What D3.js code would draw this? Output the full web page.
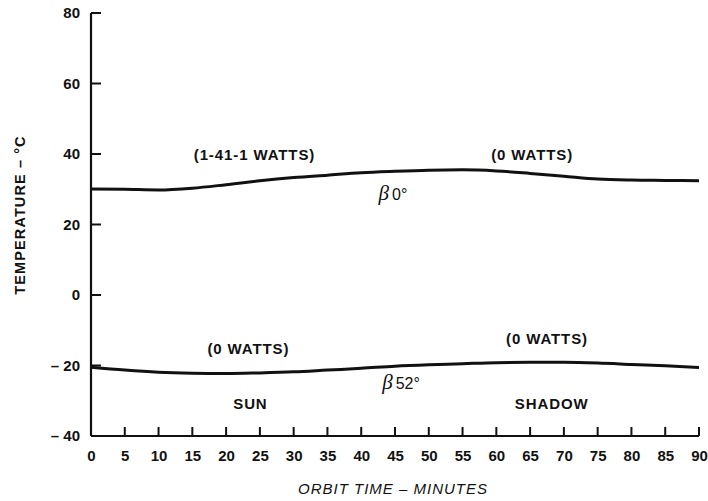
<!DOCTYPE html>
<html><head><meta charset="utf-8">
<script src="https://cdn.jsdelivr.net/npm/d3@7"></script>
<style>
body{margin:0;background:#fff;}
text{font-family:"Liberation Sans",Arial,sans-serif;fill:#111;}
</style></head>
<body><svg id="c" width="708" height="501"></svg>
<script>
const times = [0,5,10,15,20,25,30,35,40,45,50,55,60,65,70,75,80,85,90];
const beta0 = [30.1,30.0,29.8,30.3,31.3,32.4,33.3,34.0,34.7,35.1,35.4,35.5,35.2,34.5,33.7,32.9,32.6,32.5,32.4];
const beta52 = [-20.5,-21.3,-21.9,-22.2,-22.3,-22.1,-21.8,-21.3,-20.8,-20.2,-19.8,-19.5,-19.2,-19.1,-19.1,-19.3,-19.7,-20.1,-20.6];
const xTicks = [0,5,10,15,20,25,30,35,40,45,50,55,60,65,70,75,80,85,90];
const yTicks = [80,60,40,20,0,-20,-40];
const annotations = [
  {t:"(1-41-1 WATTS)", x:24.2, y:38.2},
  {t:"(0 WATTS)", x:65.3, y:38.2},
  {t:"(0 WATTS)", x:23.3, y:-16.6},
  {t:"(0 WATTS)", x:67.5, y:-14.0},
  {t:"SUN", x:23.6, y:-32.4},
  {t:"SHADOW", x:68.2, y:-32.4}
];
const betaLabels = [
  {b:"\u03B2", v:"0\u00B0", x:44.7, y:27.0},
  {b:"\u03B2", v:"52\u00B0", x:45.9, y:-26.8}
];

const svg = d3.select("#c");
const x = d3.scaleLinear().domain([0,90]).range([91,699]);
const y = d3.scaleLinear().domain([-40,80]).range([436,13]);

const xAxis = d3.axisBottom(x).tickValues(xTicks).tickSize(0).tickPadding(14).tickFormat(d3.format("d"));
const gx = svg.append("g").attr("transform",`translate(0,${y(-40)})`).call(xAxis);
const yAxis = d3.axisLeft(y).tickValues(yTicks).tickSize(0).tickPadding(11)
  .tickFormat(d => d<0 ? "\u2013 " + Math.abs(d) : d);
const gy = svg.append("g").attr("transform",`translate(${x(0)},0)`).call(yAxis);
[gx,gy].forEach(g=>{
  g.select(".domain").attr("stroke","#111").attr("stroke-width",2.2);
  g.selectAll(".tick text").attr("font-size",15).attr("font-weight","bold")
   .attr("font-family","'Liberation Sans',Arial,sans-serif").attr("fill","#111");
});
gx.select(".domain").attr("d",`M${x(0)},0H${x(90)}`);
gy.select(".domain").attr("d",`M0,${y(80)}V${y(-40)}`);

// inward tick marks
const tickG = svg.append("g").attr("class","ticks");
tickG.selectAll("line.xt").data(xTicks.filter(d=>d>0)).join("line").attr("class","xt")
  .attr("x1",d=>x(d)).attr("x2",d=>x(d)).attr("y1",y(-40)).attr("y2",y(-40)-9)
  .attr("stroke","#111").attr("stroke-width",2);
tickG.selectAll("line.yt").data(yTicks.filter(d=>d>-40)).join("line").attr("class","yt")
  .attr("x1",x(0)).attr("x2",x(0)+10).attr("y1",d=>y(d)).attr("y2",d=>y(d))
  .attr("stroke","#111").attr("stroke-width",2);

const line = d3.line().x((d,i)=>x(times[i])).y(d=>y(d)).curve(d3.curveMonotoneX);
[beta0,beta52].forEach(s=>{
  svg.append("path").attr("d",line(s)).attr("fill","none").attr("stroke","#111").attr("stroke-width",3);
});

annotations.forEach(a=>{
  svg.append("text").attr("x",x(a.x)).attr("y",y(a.y)).attr("text-anchor","middle")
    .attr("font-size",15).attr("font-weight","bold").attr("letter-spacing",0.9).text(a.t);
});
betaLabels.forEach(a=>{
  const t = svg.append("text").attr("x",x(a.x)).attr("y",y(a.y)).attr("text-anchor","middle").attr("font-size",16);
  t.append("tspan").attr("font-family","'Liberation Serif','DejaVu Serif',serif").attr("font-style","italic").attr("font-size",21).text(a.b);
  t.append("tspan").attr("dx",3).attr("font-family","'Liberation Sans',Arial,sans-serif").attr("font-size",16).text(a.v);
});

svg.append("text").attr("transform",`translate(25,215) rotate(-90)`).attr("text-anchor","middle")
  .attr("font-size",14.5).attr("font-weight","bold").attr("letter-spacing",1.1).text("TEMPERATURE \u2013 \u00B0C");
svg.append("text").attr("x",393).attr("y",494).attr("text-anchor","middle")
  .attr("font-size",15).attr("font-style","italic").attr("letter-spacing",1).text("ORBIT TIME \u2013 MINUTES");
</script></body></html>
